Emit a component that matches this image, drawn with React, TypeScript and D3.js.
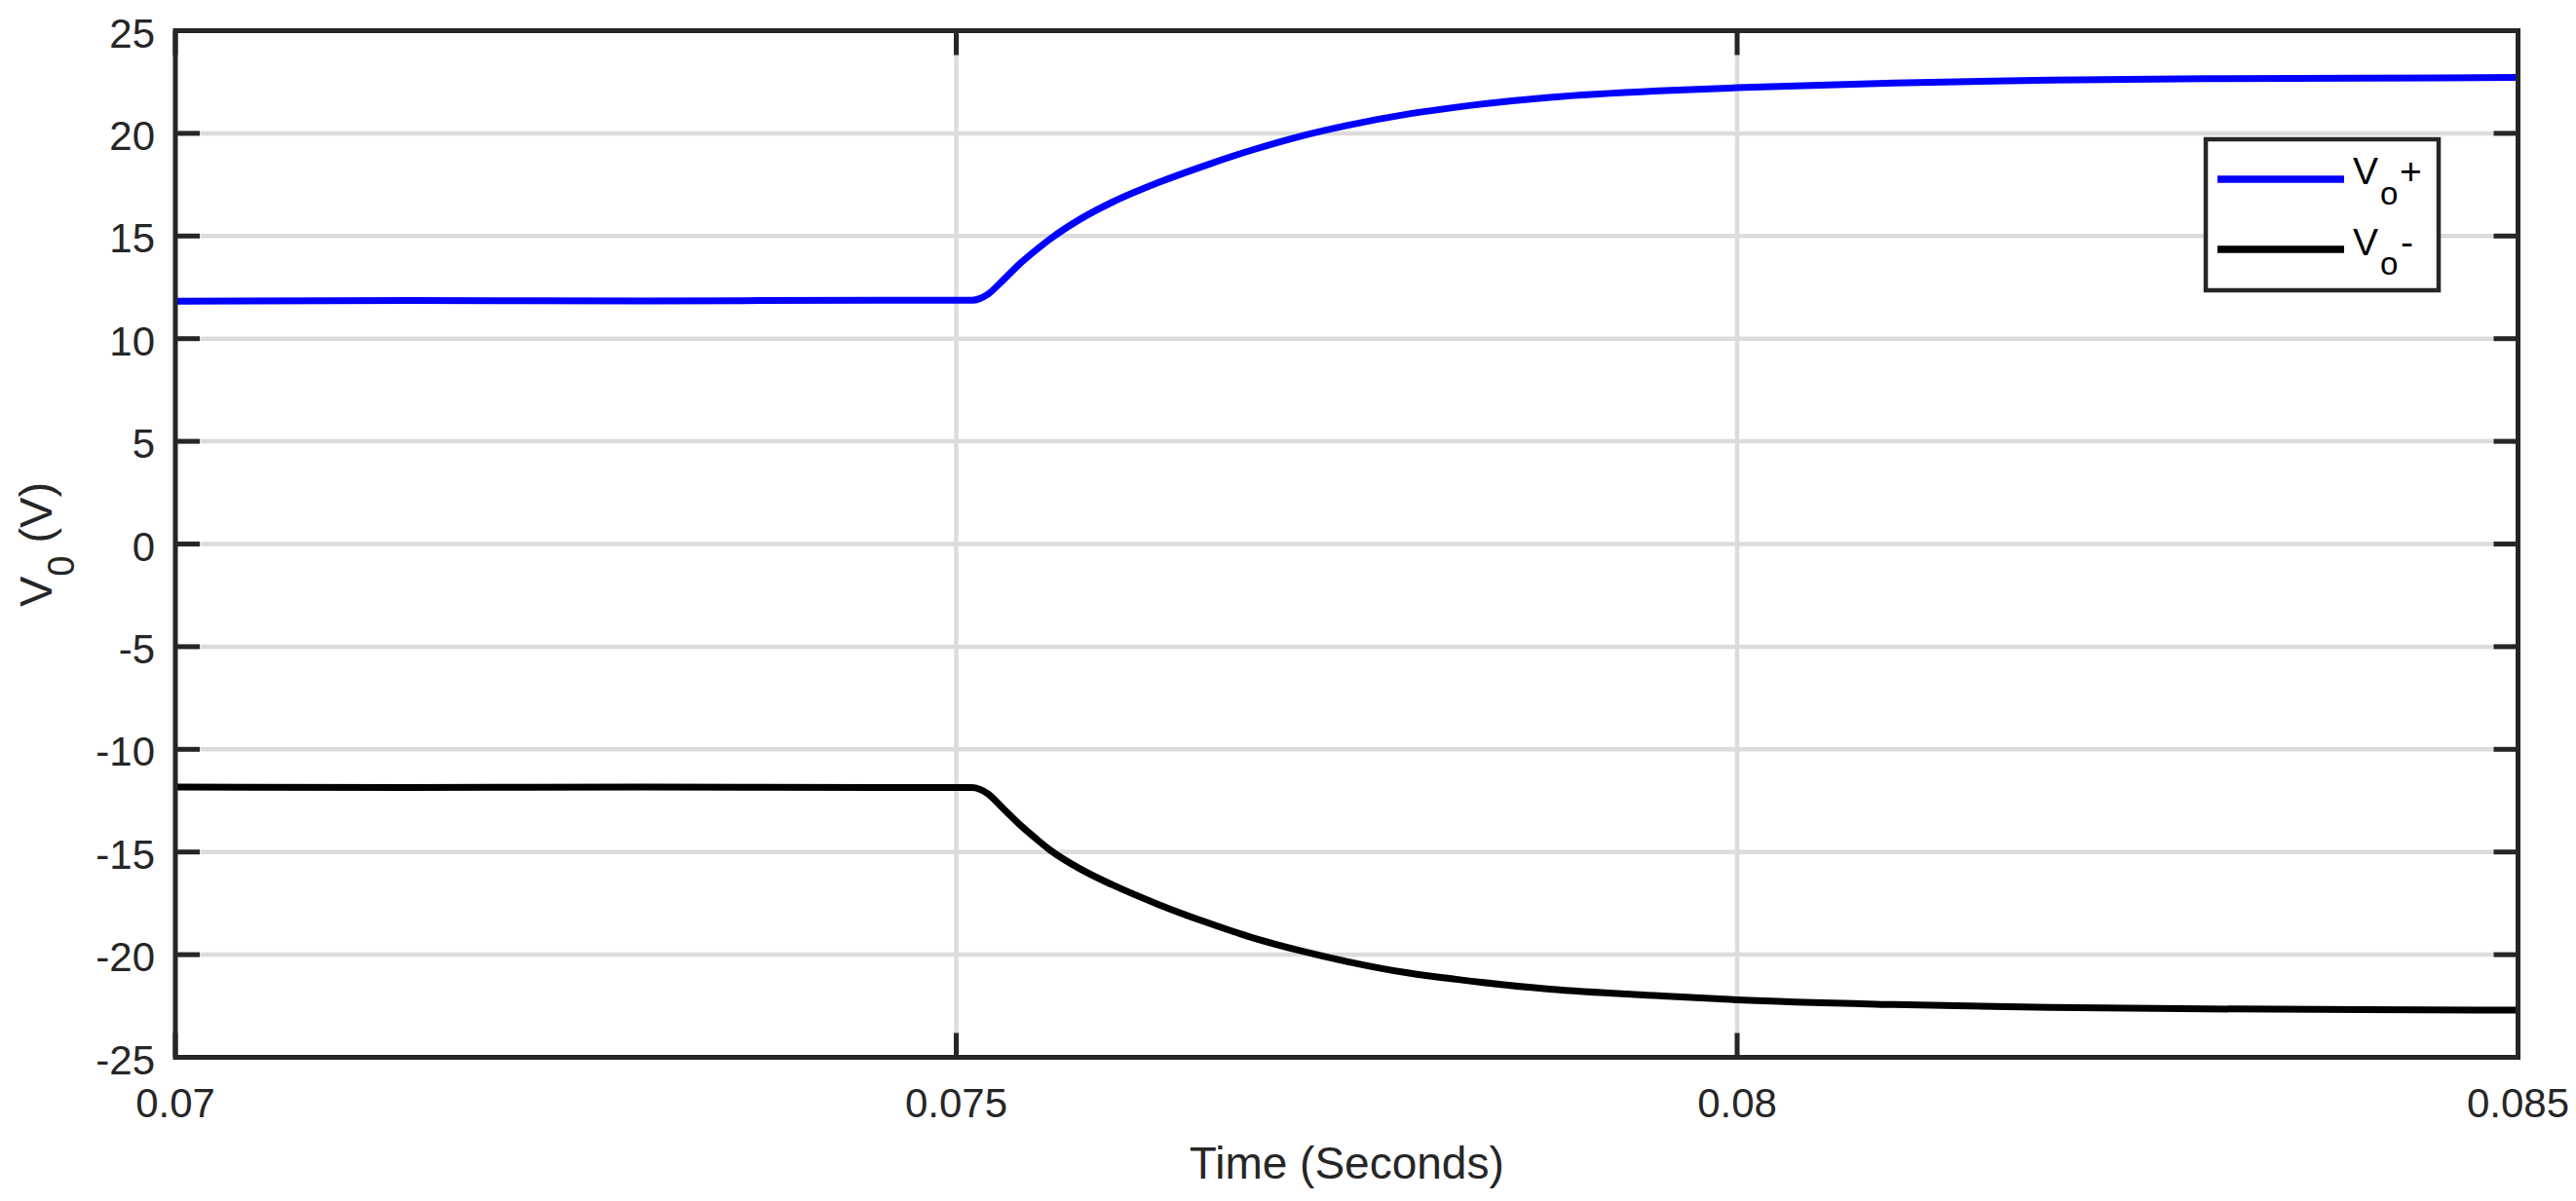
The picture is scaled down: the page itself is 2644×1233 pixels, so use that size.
import React from 'react'
import * as d3 from 'd3'

// values
const time = [0.07, 0.0715, 0.073, 0.0745, 0.0751, 0.07515, 0.0752, 0.0753, 0.0754, 0.0755, 0.0756, 0.0758, 0.076, 0.0763, 0.0766, 0.0769, 0.0772, 0.0775, 0.0779, 0.0782, 0.0788, 0.0795, 0.08, 0.081, 0.082, 0.083, 0.084, 0.085]
const vPlus = [11.82, 11.86, 11.84, 11.87, 11.87, 11.95, 12.15, 12.85, 13.6, 14.25, 14.85, 15.85, 16.65, 17.62, 18.45, 19.2, 19.85, 20.38, 20.95, 21.27, 21.75, 22.07, 22.22, 22.45, 22.59, 22.66, 22.69, 22.72]
const vMinus = [-11.84, -11.86, -11.83, -11.86, -11.86, -11.94, -12.15, -12.88, -13.62, -14.28, -14.9, -15.85, -16.6, -17.57, -18.42, -19.18, -19.8, -20.33, -20.9, -21.2, -21.68, -22.0, -22.2, -22.43, -22.57, -22.64, -22.68, -22.7]

const xTicks = [0.07, 0.075, 0.08, 0.085]
const xTickLabels = ['0.07', '0.075', '0.08', '0.085']
const yTicks = [-25, -20, -15, -10, -5, 0, 5, 10, 15, 20, 25]

const font = '"Liberation Sans", Arial, Helvetica, sans-serif'
const axisColor = '#262626'

function App() {
  const width = 2644
  const height = 1233
  const margin = { top: 31.5, right: 59.5, bottom: 147.5, left: 180 }
  const innerW = width - margin.left - margin.right
  const innerH = height - margin.top - margin.bottom

  const xScale = d3.scaleLinear().domain([0.07, 0.085]).range([0, innerW])
  const yScale = d3.scaleLinear().domain([-25, 25]).range([innerH, 0])

  const line = (values: number[]) =>
    d3.line<number>()
      .x((_, i) => xScale(time[i]))
      .y(d => yScale(d))
      .curve(d3.curveMonotoneX)(values) || ''

  const tick = 25

  return (
    <div>
      <style>{`body{margin:0}`}</style>
      <svg width={width} height={height} style={{ display: 'block', background: '#fff' }} fontFamily={font}>
        <g transform={`translate(${margin.left} ${margin.top})`}>
          {/* grid */}
          {yTicks.map(t => (
            <line key={'gy' + t} x1={0} x2={innerW} y1={yScale(t)} y2={yScale(t)} stroke="#dcdcdc" strokeWidth={4.5} />
          ))}
          {xTicks.map(t => (
            <line key={'gx' + t} x1={xScale(t)} x2={xScale(t)} y1={0} y2={innerH} stroke="#dcdcdc" strokeWidth={4.5} />
          ))}

          {/* series */}
          <path d={line(vPlus)} fill="none" stroke="#0000ff" strokeWidth={7} strokeLinejoin="round" />
          <path d={line(vMinus)} fill="none" stroke="#000000" strokeWidth={7} strokeLinejoin="round" />

          {/* ticks on all four sides */}
          {yTicks.map(t => (
            <g key={'ty' + t}>
              <line x1={0} x2={tick} y1={yScale(t)} y2={yScale(t)} stroke={axisColor} strokeWidth={5} />
              <line x1={innerW - tick} x2={innerW} y1={yScale(t)} y2={yScale(t)} stroke={axisColor} strokeWidth={5} />
              <text x={-21} y={yScale(t) + 17} textAnchor="end" fontSize={42} fill={axisColor}>{t}</text>
            </g>
          ))}
          {xTicks.map((t, i) => (
            <g key={'tx' + t}>
              <line x1={xScale(t)} x2={xScale(t)} y1={0} y2={tick} stroke={axisColor} strokeWidth={5} />
              <line x1={xScale(t)} x2={xScale(t)} y1={innerH - tick} y2={innerH} stroke={axisColor} strokeWidth={5} />
              <text x={xScale(t)} y={innerH + 61.5} textAnchor="middle" fontSize={42} fill={axisColor}>{xTickLabels[i]}</text>
            </g>
          ))}

          {/* box */}
          <rect x={0} y={0} width={innerW} height={innerH} fill="none" stroke={axisColor} strokeWidth={5} />

          {/* axis titles */}
          <text x={innerW / 2} y={innerH + 124.5} textAnchor="middle" fontSize={46} fill={axisColor}>Time (Seconds)</text>
        </g>

        <g transform={`translate(53 559) rotate(-90)`}>
          <text textAnchor="middle" fontSize={47} fill={axisColor}>
            <tspan>V</tspan>
            <tspan fontSize={38} dy={23}>0</tspan>
            <tspan dy={-23}> (V)</tspan>
          </text>
        </g>

        {/* legend */}
        <g>
          <rect x={2264} y={143} width={239} height={155} fill="#fff" stroke={axisColor} strokeWidth={4.5} />
          <line x1={2276} x2={2406} y1={184} y2={184} stroke="#0000ff" strokeWidth={7.5} />
          <text x={2415} y={189} fontSize={39} fill="#000">
            <tspan>V</tspan>
            <tspan x={2443} fontSize={33} dy={21}>o</tspan>
            <tspan x={2463} dy={-21}>+</tspan>
          </text>
          <line x1={2276} x2={2406} y1={256} y2={256} stroke="#000" strokeWidth={7.5} />
          <text x={2415} y={262} fontSize={39} fill="#000">
            <tspan>V</tspan>
            <tspan x={2443} fontSize={33} dy={20}>o</tspan>
            <tspan x={2464} dy={-20}>-</tspan>
          </text>
        </g>
      </svg>
    </div>
  )
}

export default App
